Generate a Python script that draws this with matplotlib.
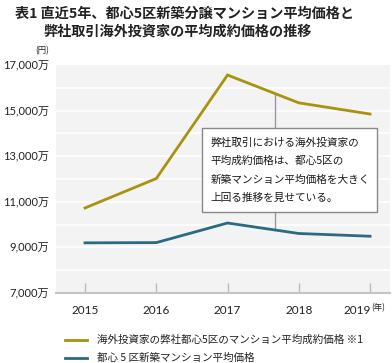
import matplotlib
matplotlib.use("Agg")
import matplotlib.pyplot as plt
import matplotlib.transforms as mtransforms
import numpy as np
from matplotlib.patches import Rectangle

plt.rcParams['font.family'] = ['Lato', 'Noto Sans CJK JP', 'DejaVu Sans']

years = [2015, 2016, 2017, 2018, 2019]
overseas = [10730, 12020, 16560, 15340, 14850]
central5 = [9200, 9210, 10070, 9610, 9490]
series_labels = ['海外投資家の弊社都心5区のマンション平均成約価格 ※1',
                 '都心 5 区新築マンション平均価格']
ytick_vals = [7000, 9000, 11000, 13000, 15000, 17000]
ytick_labels = ['7,000万', '9,000万', '11,000万', '13,000万', '15,000万', '17,000万']
title1 = '表1 直近5年、都心5区新築分譲マンション平均価格と'
title2 = '弊社取引海外投資家の平均成約価格の推移'
note_lines = ['弊社取引における海外投資家の',
              '平均成約価格は、都心5区の',
              '新築マンション平均価格を大きく',
              '上回る推移を見せている。']
callout_x = 2017.67

GOLD = '#A8930E'
BLUE = '#2B6A84'
W, H = 392, 363
fig = plt.figure(figsize=(W / 100, H / 100), dpi=100)
fig.patch.set_facecolor('white')

L, R, T, B = 56, 390, 65, 293
ax = fig.add_axes([L / W, (H - B) / H, (R - L) / W, (B - T) / H])
ax.set_facecolor('#F3F3F3')
ax.set_xlim(2014.593, 2019.28)
ax.set_ylim(7000, 17000)

for v in range(8000, 17000, 1000):
    ax.axhline(v, color='white', lw=1.2, zorder=1)

ax.plot(years, overseas, color=GOLD, lw=2, zorder=3, solid_joinstyle='miter')
ax.plot(years, central5, color=BLUE, lw=2, zorder=3, solid_joinstyle='miter')

y_top = np.interp(callout_x, years, overseas)
y_bot = np.interp(callout_x, years, central5)
ax.plot([callout_x, callout_x], [y_bot, y_top], color='#999999', lw=1, zorder=2)

box = Rectangle((0.436, 0.357), 0.524, 0.365, transform=ax.transAxes,
                facecolor='white', edgecolor='#888888', lw=1, zorder=4)
ax.add_patch(box)
for i, line in enumerate(note_lines):
    ax.text(0.463, 0.659 - i * 0.0805, line, transform=ax.transAxes,
            fontsize=7.7, color='#1A1A1A', va='center', ha='left', zorder=5,
            family=['Noto Sans CJK JP'])

for s in ['top', 'right', 'left']:
    ax.spines[s].set_visible(False)
ax.spines['bottom'].set_color('#C4C4C4')
ax.spines['bottom'].set_linewidth(1.5)

ax.set_xticks(years)
ax.set_xticklabels([str(y) for y in years], fontsize=8.5, color='#222222')
ax.tick_params(axis='x', direction='in', length=7, width=1, color='#BBBBBB', pad=9)
# shift the last year label left to make room for the unit "(年)"
last = ax.get_xticklabels()[-1]
last.set_transform(last.get_transform() + mtransforms.ScaledTranslation(-13 / 100, 0, fig.dpi_scale_trans))

ax.set_yticks(ytick_vals)
ax.set_yticklabels(ytick_labels, fontsize=8.0, color='#222222')
ax.tick_params(axis='y', length=0, pad=5)

fig.text(371 / W, 1 - 307.5 / H, '(年)', fontsize=6, color='#222222', ha='left', va='center',
         family=['Noto Sans CJK JP'])
fig.text(42 / W, 1 - 51 / H, '(円)', fontsize=6, color='#222222', ha='center', va='center',
         family=['Noto Sans CJK JP'])

fig.text(15 / W, 1 - 14 / H, title1, fontsize=10.2, fontweight='bold', color='#222222',
         ha='left', va='center', family=['Noto Sans CJK JP'])
fig.text(43 / W, 1 - 32 / H, title2, fontsize=10.2, fontweight='bold', color='#222222',
         ha='left', va='center', family=['Noto Sans CJK JP'])

for i, (lab, col) in enumerate(zip(series_labels, [GOLD, BLUE])):
    yy = 1 - (340 + i * 18) / H
    fig.add_artist(plt.Line2D([65 / W, 87 / W], [yy, yy], color=col, lw=2))
    fig.text(97 / W, yy, lab, fontsize=7.6, color='#222222', ha='left', va='center',
             family=['Noto Sans CJK JP'])

fig.savefig('out.png', dpi=100)
